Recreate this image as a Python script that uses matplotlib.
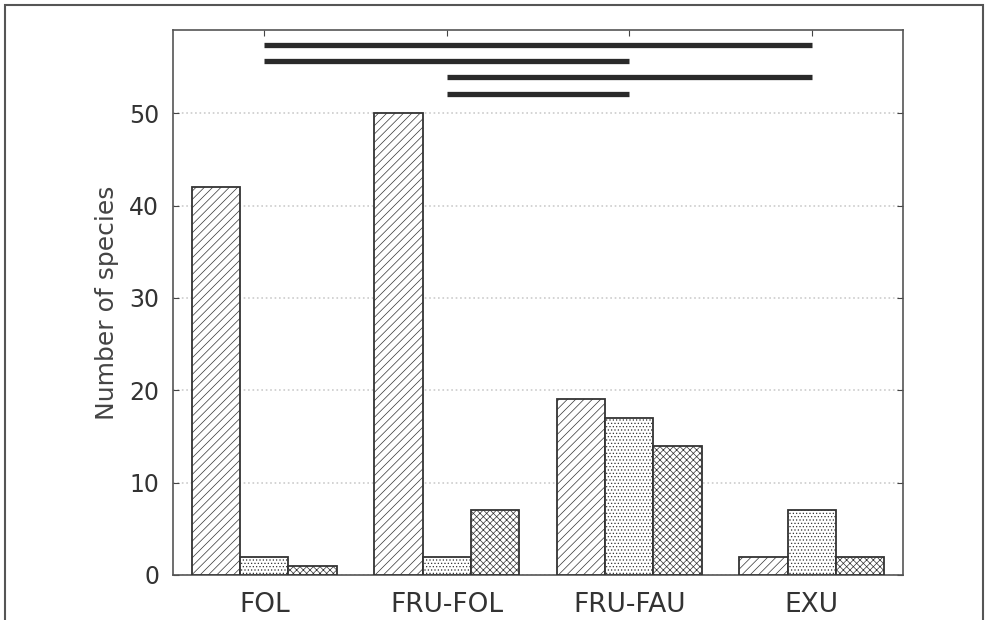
import matplotlib
matplotlib.use("Agg")
import matplotlib.pyplot as plt
import numpy as np
from matplotlib.patches import Rectangle

categories = ["FOL", "FRU-FOL", "FRU-FAU", "EXU"]
series_a = [42, 50, 19, 2]
series_b = [2, 2, 17, 7]
series_c = [1, 7, 14, 2]
# significance bars: (start category, end category, height)
sig_start = [0, 0, 1, 1]
sig_end = [3, 2, 3, 2]
sig_y = [57.4, 55.6, 53.9, 52.1]
yticks = [0, 10, 20, 30, 40, 50]

plt.rcParams['font.family'] = ['DejaVu Sans']
plt.rcParams['hatch.linewidth'] = 0.5
plt.rcParams['hatch.color'] = '#555555'

fig = plt.figure(figsize=(9.89, 6.2), dpi=100)
ax = fig.add_axes([173/989, 45/620, 730/989, 545/620])

fig.patches.append(Rectangle((5/989, -0.05), 978/989, 1.05 - 5/620,
                             transform=fig.transFigure, fill=False,
                             edgecolor='#555555', lw=1.5))

x = np.arange(len(categories))
w = 0.265
ec = '#333333'
ax.bar(x - w, series_a, w, color='white', edgecolor=ec, hatch='////', lw=1.3, zorder=3)
ax.bar(x, series_b, w, color='white', edgecolor=ec, hatch='.....', lw=1.3, zorder=3)
ax.bar(x + w, series_c, w, color='white', edgecolor=ec, hatch='xxxxx', lw=1.3, zorder=3)

for s, e, y in zip(sig_start, sig_end, sig_y):
    ax.plot([s, e], [y, y], color='#2a2a2a', lw=3.8, solid_capstyle='butt', zorder=4)

ax.set_xlim(-0.5, 3.5)
ax.set_ylim(0, 59)
ax.set_yticks(yticks)
ax.set_xticks(x)
ax.set_xticklabels(categories)
ax.yaxis.grid(True, color='#cccccc', linestyle=':', lw=1.2, zorder=0)
ax.tick_params(axis='both', direction='in', colors='#444444', length=4,
               top=True, right=True)
ax.tick_params(axis='x', labelsize=19, pad=12, labelcolor='#333333')
ax.tick_params(axis='y', labelsize=17, pad=10, labelcolor='#333333')
for sp in ax.spines.values():
    sp.set_color('#555555')
    sp.set_linewidth(1.2)
ax.set_ylabel("Number of species", fontsize=18, color='#444444', labelpad=7)

fig.savefig("out.png", dpi=100)
